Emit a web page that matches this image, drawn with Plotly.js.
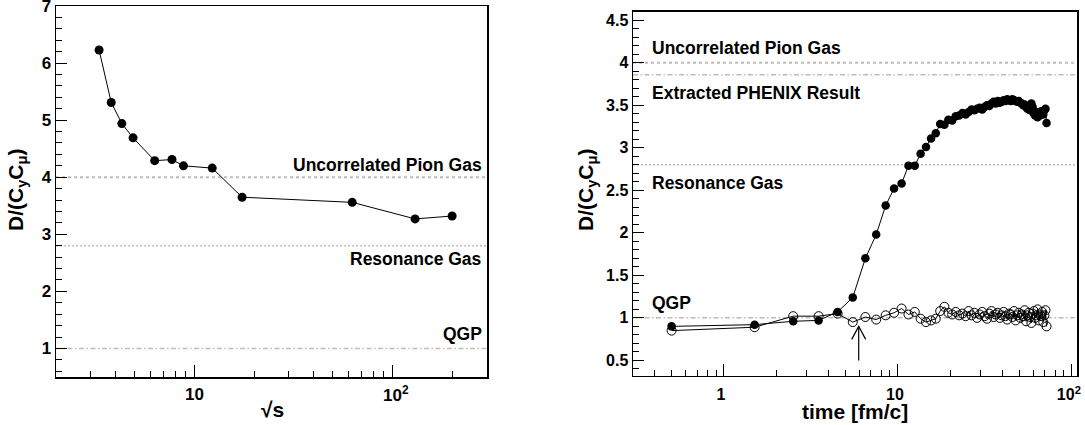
<!DOCTYPE html>
<html>
<head>
<meta charset="utf-8">
<script src="https://cdn.plot.ly/plotly-3.0.1.min.js"></script>
<style>html,body{margin:0;padding:0;background:#fff;}#chart{width:1085px;height:425px;}</style>
</head>
<body>
<div id="chart"></div>
<script>
// ---------- Left panel data ----------
const sqrtS = [3.3, 3.8, 4.3, 4.9, 6.3, 7.7, 8.8, 12.3, 17.4, 62.6, 130, 200];
const ratioEnergy = [6.23, 5.31, 4.94, 4.69, 4.29, 4.31, 4.20, 4.16, 3.65, 3.56, 3.27, 3.32];

// ---------- Right panel data ----------
const timeFm = [0.5,1.5,2.5,3.5,4.5,5.5,6.5,7.5,8.5,9.5,10.5,11.5,12.5,13.5,14.5,15.5,16.5,17.5,18.5,19.5,
  20.5,21.5,22.5,23.5,24.5,25.5,26.5,27.5,28.5,29.5,30.5,31.5,32.5,33.5,34.5,35.5,36.5,37.5,38.5,39.5,
  40.5,41.5,42.5,43.5,44.5,45.5,46.5,47.5,48.5,49.5,50.5,51.5,52.5,53.5,54.5,55.5,56.5,57.5,58.5,59.5,
  60.5,61.5,62.5,63.5,64.5,65.5,66.5,67.5,68.5,69.5,70.5,71.5];
const ratioFilled = [0.90,0.92,0.96,0.97,1.07,1.24,1.70,1.98,2.32,2.52,
  2.58,2.79,2.79,2.93,3.01,3.11,3.17,3.28,3.27,3.33,
  3.32,3.37,3.38,3.41,3.39,3.42,3.45,3.44,3.46,3.47,
  3.45,3.48,3.50,3.49,3.52,3.54,3.52,3.55,3.53,3.54,
  3.56,3.55,3.57,3.56,3.55,3.57,3.56,3.55,3.54,3.55,
  3.53,3.52,3.50,3.51,3.48,3.46,3.47,3.44,3.52,3.48,
  3.40,3.38,3.42,3.36,3.40,3.38,3.43,3.41,3.39,3.44,
  3.46,3.29];
const ratioOpen = [0.85,0.89,1.02,1.02,1.05,0.95,1.01,0.98,1.03,1.06,
  1.11,1.04,1.07,0.99,0.95,0.97,0.99,1.08,1.13,1.06,
  1.04,1.07,1.03,1.05,1.02,1.08,1.03,1.06,1.00,1.04,
  1.07,1.02,0.99,1.05,1.08,1.01,1.04,1.06,1.00,1.03,
  1.07,1.02,0.98,1.05,1.04,1.01,1.08,0.97,1.03,1.06,
  1.00,1.04,1.02,1.09,0.96,1.03,1.06,1.01,0.94,1.05,
  1.08,1.00,1.03,1.10,0.97,1.04,1.02,1.07,0.95,1.03,
  1.09,0.90];

// Reference levels
const levelsLeft = [
  {name: 'Uncorrelated Pion Gas', value: 4.0, style: 'dotBig'},
  {name: 'Resonance Gas', value: 2.8, style: 'dotSmall'},
  {name: 'QGP', value: 1.0, style: 'dashdot'}
];
const levelsRight = [
  {name: 'Uncorrelated Pion Gas', value: 4.0, style: 'dotBig'},
  {name: 'Extracted PHENIX Result', value: 3.86, style: 'dashdot'},
  {name: 'Resonance Gas', value: 2.8, style: 'dotSmall'},
  {name: 'QGP', value: 1.0, style: 'dashdot'}
];
// arrow marking the transition time
const arrowTime = 5.95, arrowFrom = 0.5, arrowTo = 0.9;

// tick positions / labels of the log axes
const majorLeft = [10, 100], majorLeftText = ['10', '10<sup>2</sup>'];
const majorRight = [1, 10, 100], majorRightText = ['1', '10', '10<sup>2</sup>'];
const minorLeft = [3,4,5,6,7,8,9,20,30,40,50,60,70,80,90,200,300];
const minorRight = [0.4,0.5,0.6,0.7,0.8,0.9,2,3,4,5,6,7,8,9,20,30,40,50,60,70,80,90];

// ---------- styling ----------
const W = 1085, H = 425;
const FONT = 'Liberation Sans, Arial, Helvetica, sans-serif';
const refColor = '#c6bab0';
const dashMap = {
  dotBig: {dash: '3px,3px', width: 2},
  dotSmall: {dash: '2px,2px', width: 1.5},
  dashdot: {dash: '5px,2.5px,1.5px,2.5px', width: 1.5}
};
const px = v => v / W, py = v => 1 - v / H;

const traces = [
  {x: sqrtS, y: ratioEnergy, xaxis: 'x', yaxis: 'y', type: 'scatter', mode: 'lines+markers',
   line: {color: 'black', width: 1}, marker: {symbol: 'circle', size: 9, color: 'black'}, hoverinfo: 'skip'},
  {x: timeFm, y: ratioOpen, xaxis: 'x2', yaxis: 'y2', type: 'scatter', mode: 'lines+markers',
   line: {color: 'black', width: 1}, marker: {symbol: 'circle-open', size: 9, color: 'black', line: {width: 1}}, hoverinfo: 'skip'},
  {x: timeFm, y: ratioFilled, xaxis: 'x2', yaxis: 'y2', type: 'scatter', mode: 'lines+markers',
   line: {color: 'black', width: 1}, marker: {symbol: 'circle', size: 8.5, color: 'black'}, hoverinfo: 'skip'}
];

const shapes = [];
levelsLeft.forEach(l => shapes.push({type: 'line', xref: 'x domain', yref: 'y', x0: 0, x1: 1, y0: l.value, y1: l.value,
  layer: 'below', line: {color: refColor, width: dashMap[l.style].width, dash: dashMap[l.style].dash}}));
levelsRight.forEach(l => shapes.push({type: 'line', xref: 'x2 domain', yref: 'y2', x0: 0, x1: 1, y0: l.value, y1: l.value,
  layer: 'below', line: {color: refColor, width: dashMap[l.style].width, dash: dashMap[l.style].dash}}));
// arrow shaft
shapes.push({type: 'line', xref: 'x2', yref: 'y2', x0: arrowTime, x1: arrowTime, y0: arrowFrom, y1: arrowTo,
  line: {color: 'black', width: 1.2}});
// arrow head (pixel sized, anchored at tip)
shapes.push({type: 'path', xref: 'x2', yref: 'y2', xsizemode: 'pixel', ysizemode: 'pixel',
  xanchor: arrowTime, yanchor: arrowTo, path: 'M -7,-13 L 0,0 L 7,-13',
  line: {color: 'black', width: 1.2}});

const labFont = {family: FONT, size: 17.5, color: 'black', weight: 'bold'};
const tickFontL = {family: FONT, size: 17, color: 'black', weight: 'bold'};
const annotations = [];
const leftShift = {'Uncorrelated Pion Gas': 12, 'Resonance Gas': -13, 'QGP': 14};
levelsLeft.forEach(l => annotations.push({text: l.name, xref: 'paper', x: px(484), xanchor: 'right',
  yref: 'y', y: l.value, yanchor: 'middle', yshift: leftShift[l.name], showarrow: false, font: labFont}));
const rightShift = {'Uncorrelated Pion Gas': 15, 'Extracted PHENIX Result': -18, 'Resonance Gas': -18, 'QGP': 15};
levelsRight.forEach(l => annotations.push({text: l.name, xref: 'paper', x: px(650), xanchor: 'left',
  yref: 'y2', y: l.value, yanchor: 'middle', yshift: rightShift[l.name], showarrow: false, font: labFont}));
// left x tick labels (log axis -> annotation x given as log10 of the value)
majorLeft.forEach((v, i) => annotations.push({text: majorLeftText[i], xref: 'x', x: Math.log10(v),
  yref: 'paper', y: py(394), xanchor: 'center', yanchor: 'middle', xshift: i === 1 ? 3 : 0,
  showarrow: false, font: tickFontL}));
// axis titles
const titleFont = {family: FONT, size: 21, color: 'black', weight: 'bold'};
annotations.push({text: 'D/(C<sub>y</sub>C<sub>μ</sub>)', xref: 'paper', yref: 'paper', x: px(17), y: py(190),
  textangle: -90, showarrow: false, font: titleFont, xanchor: 'center', yanchor: 'middle'});
annotations.push({text: 'D/(C<sub>y</sub>C<sub>μ</sub>)', xref: 'paper', yref: 'paper', x: px(587), y: py(190),
  textangle: -90, showarrow: false, font: titleFont, xanchor: 'center', yanchor: 'middle'});
annotations.push({text: '√s', xref: 'paper', yref: 'paper', x: px(272), y: py(409),
  showarrow: false, font: titleFont, xanchor: 'center', yanchor: 'middle'});
annotations.push({text: 'time [fm/c]', xref: 'paper', yref: 'paper', x: px(855), y: py(411),
  showarrow: false, font: titleFont, xanchor: 'center', yanchor: 'middle'});

function logAxis(domain, range, anchor, fs, majVals, majText, minorVals, shift, showLabels) {
  return {domain: domain, type: 'log', range: range, anchor: anchor, showline: true, mirror: true,
    linecolor: 'black', linewidth: 1.5, ticks: 'inside', ticklen: 12, tickwidth: 1, tickcolor: 'black',
    tickmode: 'array', tickvals: majVals, ticktext: majText, showticklabels: showLabels,
    showgrid: false, zeroline: false, fixedrange: true,
    ticklabeloverflow: 'allow', ticklabelstandoff: 4, ticklabelshift: shift,
    minor: {tickmode: 'array', tickvals: minorVals, ticks: 'inside', ticklen: 6, tickwidth: 1,
            tickcolor: 'black', showgrid: false},
    tickfont: {family: FONT, size: fs, color: 'black', weight: 'bold'}};
}
function linAxis(domain, range, anchor, dtick, mdtick, fs) {
  return {domain: domain, range: range, anchor: anchor, showline: true, mirror: true,
    linecolor: 'black', linewidth: 1.5, ticks: 'inside', ticklen: 11, tickwidth: 1, tickcolor: 'black',
    dtick: dtick, tick0: 0, showgrid: false, zeroline: false, fixedrange: true, ticklabeloverflow: 'allow',
    minor: {ticks: 'inside', ticklen: 6, tickwidth: 1, tickcolor: 'black', dtick: mdtick, showgrid: false},
    tickfont: {family: FONT, size: fs, color: 'black', weight: 'bold'}};
}

const layout = {
  width: W, height: H, margin: {l: 0, r: 0, t: 0, b: 0},
  paper_bgcolor: 'white', plot_bgcolor: 'white', showlegend: false,
  xaxis: logAxis([px(56), px(487)], [Math.log10(2), Math.log10(300)], 'y', 17, majorLeft, majorLeftText, minorLeft, 0, false),
  yaxis: linAxis([1 - 377 / H, 1 - 6 / H], [0.5, 7.0], 'x', 1, 0.2, 17),
  xaxis2: logAxis([px(633), px(1077)], [Math.log10(0.3), Math.log10(107)], 'y2', 16, majorRight, majorRightText, minorRight, -3, true),
  yaxis2: linAxis([1 - 375.7 / H, 1 - 11.7 / H], [0.32, 4.6], 'x2', 0.5, 0.1, 16),
  shapes: shapes,
  annotations: annotations
};

Plotly.newPlot('chart', traces, layout, {staticPlot: true, displayModeBar: false});
</script>
</body>
</html>
